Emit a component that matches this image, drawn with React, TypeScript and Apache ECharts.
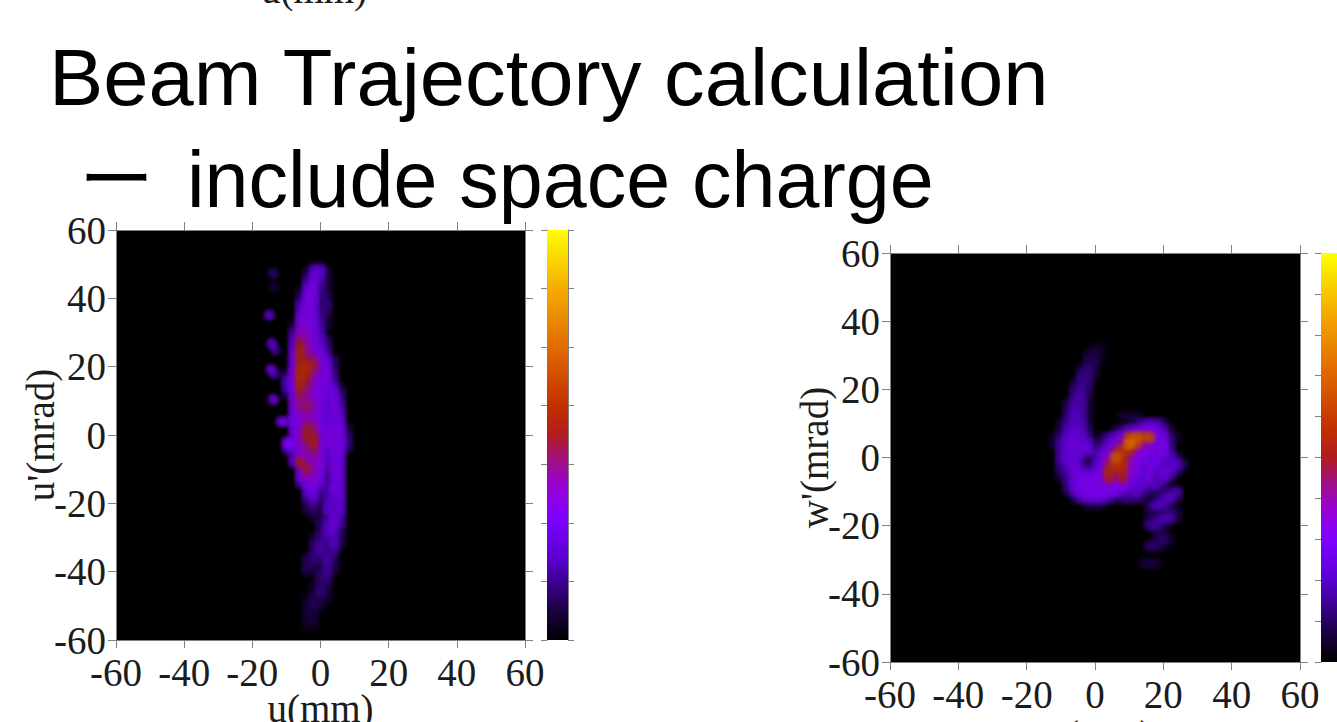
import React, { useEffect, useRef } from "react";
import * as echarts from "echarts";

const axisTicks = [-60, -40, -20, 0, 20, 40, 60];
const titleLine1 = "Beam Trajectory calculation";
const titleDash = "ー";
const titleLine2 = "include space charge";
const topClippedLabel = "u(mm)";
const leftXName = "u(mm)";
const leftYName = "u'(mrad)";
const rightXName = "w(mm)";
const rightYName = "w'(mrad)";
const leftBarMax = 7;
const rightBarMax = 10;

// colour scale: [fraction, colour]
const colorStops: [number, string][] = [
  [0, "#000000"], [0.07, "#1a0040"], [0.14, "#3c0090"], [0.2, "#5a00d0"], [0.3, "#8000ff"],
  [0.38, "#9a00d0"], [0.44, "#a01080"], [0.5, "#b01c20"], [0.57, "#c03000"], [0.7, "#e06400"],
  [0.85, "#f4a800"], [1, "#ffff00"],
];

// separate beads of the left phase-space plot: [u, u', level]
const leftBeads = [
  [-13.8, 47.3, 0.9], [-13.8, 43.4, 0.5], [-15, 35.1, 1.8], [-14.3, 26.8, 1.8], [-13.3, 24.9, 1.2],
  [-14.5, 19.2, 2.0], [-13.4, 17.8, 1.2], [-13.8, 10.4, 2.2], [-11.6, 3.9, 2.3], [-9, -3, 2.1],
];
// rows of the left plot: [u', first u, level at every 2 mm ...]
const leftRows = [
  [49, -2, 0.9, 1],
  [48, -4, 0.5, 1.6, 1.8, 0.6],
  [46, -4, 1.0, 2.1, 1.6, 0.5],
  [44, -4, 1.6, 2.2, 1.2, 0.6],
  [42, -6, 0.5, 2.1, 2.3, 1.1, 0.6],
  [40, -6, 0.9, 2.3, 2.2, 1.0, 0.8],
  [38, -6, 1.5, 2.4, 2.0, 1.0, 1],
  [36, -6, 2.0, 2.4, 2.1, 1.0, 0.8],
  [34, -6, 2.3, 2.4, 2.1, 1.2, 0.5],
  [32, -8, 0.6, 2.6, 2.5, 2.2, 1.3, 0.5],
  [30, -8, 1.2, 2.8, 2.6, 2.2, 1.5],
  [28, -8, 1.6, 3.3, 2.8, 2.3, 1.7, 0.8],
  [26, -8, 1.9, 3.8, 3, 2.4, 2.0, 1],
  [24, -8, 2.1, 4.1, 3.1, 2.5, 2.2, 1.2],
  [22, -8, 2.2, 3.9, 3.6, 3.4, 2.4, 1.9, 0.8],
  [20, -8, 2.3, 4.1, 4.2, 3.6, 2.4, 2.2, 0.8],
  [18, -10, 0.8, 2.4, 4.3, 4, 3, 2.5, 2.3, 1],
  [16, -10, 1.5, 2.4, 4.2, 3.6, 2.6, 2.4, 2.3, 1.2],
  [14, -10, 1.5, 2.3, 4, 3.3, 2.5, 2.3, 2.2, 1.8, 0.5],
  [12, -10, 0.8, 2.2, 3.5, 2.8, 2.5, 2.3, 2, 2.2, 1],
  [10, -8, 2.4, 3.2, 3.2, 2.7, 2.4, 2, 2.3, 1.2],
  [8, -8, 2.2, 3.1, 3.4, 2.8, 2.3, 1.8, 2.2, 1.5],
  [6, -8, 2.3, 2.6, 2.8, 2.5, 2.2, 1.9, 2.1, 1.8],
  [4, -10, 1.5, 2.2, 2.5, 3, 2.8, 2.2, 2, 2.2, 2.0],
  [2, -8, 2.2, 2.5, 3.7, 3.2, 2.3, 2.1, 2.3, 2.2, 0.6],
  [0, -8, 2.2, 2.6, 3.8, 3.6, 2.4, 2.2, 2.4, 2.2, 0.8],
  [-2, -10, 2.2, 2, 2.7, 3.4, 3.9, 2.5, 2.3, 2.4, 2.2, 1.1],
  [-4, -10, 1.5, 1.6, 2.5, 3, 3.5, 2.5, 1.8, 2.3, 2.1, 0.8],
  [-6, -8, 1.6, 2.8, 2.8, 2.9, 2.5, 1.6, 2.2, 2.1],
  [-8, -8, 1.8, 3.8, 3, 2.8, 2.5, 1.5, 2.2, 2.1],
  [-10, -6, 2.6, 3.6, 2.8, 2.4, 1.3, 2.4, 2.0],
  [-12, -6, 2.4, 2.9, 2.6, 2.3, 1, 2.2, 2.0],
  [-14, -6, 1.4, 2.4, 2.4, 2, 1.1, 2.1, 1.9],
  [-16, -4, 2.1, 2.2, 1.2, 1.4, 2.2, 2.0],
  [-18, -4, 1.4, 2.0, 0.9, 1.2, 1.9, 2.0],
  [-20, -4, 0.8, 1.3, 0.5, 1.6, 1.8, 1.8],
  [-22, -4, 0.6, 0.8, 0.5, 1.7, 1.8, 1.9],
  [-24, -2, 0.5, 0.6, 1.1, 1.9, 1.3],
  [-26, 0, 0.8, 1.5, 2.0, 1.3],
  [-28, 0, 0.8, 1.7, 1.8, 0.8],
  [-30, -2, 0.5, 1, 1.3, 1.6, 0.7],
  [-32, -2, 0.9, 1.3, 1.1, 1.6, 0.6],
  [-34, -2, 0.9, 1.3, 1, 1.2],
  [-36, -4, 0.7, 1, 1, 1.3, 0.8],
  [-38, -4, 0.8, 0.7, 0.6, 1.2, 0.7],
  [-40, -4, 0.6, 0.5, 0.8, 1.2, 0.5],
  [-42, 0, 0.9, 1.0],
  [-44, -2, 0.4, 0.9, 0.7],
  [-46, -2, 0.5, 1.0, 0.5],
  [-48, -4, 0.3, 0.7, 0.6, 0.4],
  [-50, -4, 0.5, 0.7, 0.5],
  [-52, -4, 0.5, 0.5],
  [-54, -4, 0.4, 0.5],
  [-56, -4, 0.3, 0.3],
];
// rows of the right plot: [w', first w, level at every 2 mm ...] (0 = empty cell)
const rightRows = [
  [32, 0, 0.4, 0.3],
  [30, -2, 0.5, 0.6, 0.3],
  [28, -2, 0.7, 0.7],
  [26, -4, 0.6, 0.9, 0.5],
  [24, -4, 1.0, 1.0, 0.4],
  [22, -6, 0.5, 1.1, 0.9],
  [20, -6, 0.9, 1.2, 0.8],
  [18, -6, 1.1, 1.3, 0.6],
  [16, -8, 0.6, 1.3, 1.3, 0.5],
  [14, -8, 0.8, 1.4, 1.3, 0.5],
  [12, -8, 1.0, 1.5, 1.3, 0.5, 0, 0, 0, 0, 0.4, 0.5, 0.5],
  [10, -10, 0.5, 1.2, 1.6, 1.4, 0.6, 0, 0, 0, 0, 0, 0.5, 0.8, 1.3, 1.7, 1.6, 0.8],
  [8, -10, 0.6, 1.5, 1.7, 1.5, 0.8, 0, 0, 0, 0.6, 1.2, 1.8, 2, 2.2, 2.2, 2, 1.5, 0.5],
  [6, -12, 0.4, 1, 1.7, 1.9, 1.8, 1.1, 0, 0.6, 1.2, 1.8, 2.4, 4.8, 5.2, 4.8, 4.9, 2.2, 2.2, 0.9, 0.4],
  [4, -12, 0.5, 1.3, 1.9, 1.9, 1.9, 1.8, 0.8, 0.9, 1.8, 2.4, 3.2, 5.6, 4.9, 3, 2.7, 2.2, 2.2, 1.1],
  [2, -10, 1.3, 1.8, 1.9, 2.0, 2.0, 1.0, 1.7, 2.2, 3.4, 4.6, 4.2, 2.8, 2.4, 2.3, 1.6, 2.3, 1.3],
  [0, -10, 1.4, 1.8, 1.9, 1.4, 0.3, 1.3, 2, 2.8, 5.2, 4.2, 3, 2.5, 2.3, 1.6, 2.2, 1.8, 1.5, 0.9],
  [-2, -10, 1.1, 1.7, 2.0, 1.2, 0.2, 1.4, 2.1, 3.4, 4.5, 4.3, 2.8, 2.4, 1.9, 2.2, 2.0, 1.3, 1.7, 1.6, 0.7],
  [-4, -10, 0.9, 1.3, 2.0, 1.9, 1.5, 1.9, 2.2, 4.2, 3.6, 4.0, 2.6, 2.3, 1.6, 2.1, 1.5, 2.0, 1.9, 1.0],
  [-6, -10, 0.5, 1.1, 2.0, 2.2, 2.1, 2.2, 2.4, 3.8, 2.8, 3.7, 2.5, 2, 1.7, 2.1, 1.1, 1.9, 1.0],
  [-8, -8, 1.1, 2, 2.2, 2.2, 2.2, 2.4, 2.5, 2.4, 2.4, 2.2, 1.6, 1.9, 1.3, 1.6, 0.9],
  [-10, -8, 0.7, 1.8, 2.2, 2.3, 2.3, 2.3, 2.3, 2.2, 1.9, 1.2, 1.7, 1.2, 0.9, 0.6, 0.8, 1.1, 1.4],
  [-12, -6, 0.7, 1.5, 1.9, 2, 1.9, 1.4, 0.8, 0.9, 1.1, 1.0, 0.7, 0, 0.8, 1.3, 1.6, 0.8],
  [-14, -2, 0.5, 0.6, 0.5, 0, 0, 0, 0, 0, 0, 0.8, 1.5, 1.4, 0.5],
  [-16, 16, 0.6, 0.5, 0.6, 1.0, 0.6],
  [-18, 16, 0.7, 1.0, 1.4, 1.3, 0.4],
  [-20, 16, 1.1, 1.2, 0.7],
  [-22, 18, 0.5, 0.4],
  [-24, 18, 0.6, 0.9, 0.5],
  [-26, 16, 0.9, 0.8, 0.4],
  [-31, 14, 0.4, 0.6, 0.4],
];

const COLOR_FULL_LEVEL = 7.6;

function hexToRgb(h: string) {
  return [1, 3, 5].map((i) => parseInt(h.slice(i, i + 2), 16));
}
function levelColor(level: number) {
  const t = Math.min(1, level / COLOR_FULL_LEVEL);
  for (let i = 1; i < colorStops.length; i++) {
    if (t <= colorStops[i][0]) {
      const [t0, c0] = colorStops[i - 1];
      const [t1, c1] = colorStops[i];
      const f = (t - t0) / (t1 - t0);
      const a = hexToRgb(c0);
      const b = hexToRgb(c1);
      return a.map((v, k) => Math.round(v + (b[k] - v) * f));
    }
  }
  return [255, 255, 0];
}
function cellsOf(rows: number[][], extra: number[][] = []) {
  const out: number[][] = [...extra];
  rows.forEach(([v, first, ...levels]) => {
    levels.forEach((l, i) => {
      if (l > 0) out.push([first + i * 2, v, l]);
    });
  });
  return out.sort((a, b) => a[2] - b[2]);
}
function blobData(cells: number[][]) {
  return cells.map(([u, v, l]) => {
    const [r, g, b] = levelColor(l);
    return {
      value: [u, v, l],
      itemStyle: {
        color: {
          type: "radial", x: 0.5, y: 0.5, r: 0.5,
          colorStops: [
            { offset: 0, color: `rgba(${r},${g},${b},1)` },
            { offset: 0.4, color: `rgba(${r},${g},${b},0.8)` },
            { offset: 1, color: `rgba(${r},${g},${b},0)` },
          ],
        },
      },
    };
  });
}

const SERIF = "'Liberation Serif', serif";
const AXIS_GRAY = "#808080";
const TEXT = "#1c1c1c";

function valueAxis(gridIndex: number, position: string, labelled: boolean, name?: string, gap?: number, rotate?: number) {
  const horizontal = position === "bottom" || position === "top";
  return {
    type: "value", gridIndex, position, min: axisTicks[0], max: axisTicks[axisTicks.length - 1], interval: 20,
    name: name ?? "", nameLocation: "middle", nameGap: gap ?? 0, nameRotate: rotate, nameMoveOverlap: false,
    nameTextStyle: { fontFamily: SERIF, fontSize: 39, color: TEXT, lineHeight: 39 },
    axisLine: { show: true, onZero: false, lineStyle: { color: AXIS_GRAY, width: 1 } },
    axisTick: { show: true, length: 8, lineStyle: { color: AXIS_GRAY, width: 1 } },
    axisLabel: {
      show: labelled, fontFamily: SERIF, fontSize: 39, color: TEXT,
      margin: horizontal ? 13 : 10, showMinLabel: true, showMaxLabel: true, hideOverlap: false,
    },
    splitLine: { show: false },
  };
}
function barAxis(gridIndex: number, position: string, max: number) {
  return {
    type: "value", gridIndex, position, min: 0, max, interval: 1,
    axisLine: { show: true, onZero: false, lineStyle: { color: AXIS_GRAY, width: 1 } },
    axisTick: { show: true, length: 6, lineStyle: { color: AXIS_GRAY, width: 1 } },
    axisLabel: { show: false },
    splitLine: { show: false },
  };
}

export default function App() {
  const ref = useRef<HTMLDivElement>(null);
  useEffect(() => {
    document.body.style.margin = "0";
    const chart = echarts.init(ref.current!, null, { renderer: "svg" });
    const gradient = {
      type: "linear", x: 0, y: 1, x2: 0, y2: 0,
      colorStops: colorStops.map(([offset, color]) => ({ offset, color })),
    };
    const titleFont = "'Liberation Sans', sans-serif";
    const blobSeries = (idx: number, cells: number[][], size: number) => ({
      type: "scatter", xAxisIndex: idx, yAxisIndex: idx, symbol: "circle", symbolSize: size,
      clip: true, silent: true, data: blobData(cells),
    });
    const gridBase = { outerBoundsMode: "none", containLabel: false, borderWidth: 0 };
    chart.setOption({
      animation: false,
      backgroundColor: "#ffffff",
      tooltip: { show: false },
      grid: [
        { ...gridBase, left: 116, top: 230, width: 409, height: 410, show: true, backgroundColor: "#000000" },
        { ...gridBase, left: 890, top: 253, width: 410, height: 409, show: true, backgroundColor: "#000000" },
        { ...gridBase, left: 547, top: 230, width: 21, height: 410 },
        { ...gridBase, left: 1321, top: 253, width: 24, height: 409 },
      ],
      xAxis: [
        valueAxis(0, "bottom", true, leftXName, 49),
        valueAxis(1, "bottom", true, rightXName, 53),
        { type: "category", gridIndex: 2, data: ["scale"], show: false },
        { type: "category", gridIndex: 3, data: ["scale"], show: false },
        valueAxis(0, "top", false),
        valueAxis(1, "top", false),
      ],
      yAxis: [
        valueAxis(0, "left", true, leftYName, 56, 90),
        valueAxis(1, "left", true, rightYName, 56, 90),
        barAxis(2, "left", leftBarMax),
        barAxis(3, "left", rightBarMax),
        valueAxis(0, "right", false),
        valueAxis(1, "right", false),
        barAxis(2, "right", leftBarMax),
        barAxis(3, "right", rightBarMax),
      ],
      series: [
        blobSeries(0, cellsOf(leftRows, leftBeads), 16),
        blobSeries(1, cellsOf(rightRows), 17),
        {
          type: "bar", xAxisIndex: 2, yAxisIndex: 2, barWidth: "100%", silent: true,
          data: [leftBarMax], itemStyle: { color: gradient },
        },
        {
          type: "bar", xAxisIndex: 3, yAxisIndex: 3, barWidth: "100%", silent: true,
          data: [rightBarMax], itemStyle: { color: gradient },
        },
      ],
      graphic: [
        { type: "text", x: 314, y: 9, style: { text: topClippedLabel, font: `39px ${SERIF}`, fill: TEXT, textAlign: "center", textVerticalAlign: "bottom" } },
        { type: "text", x: 49, y: 117, scaleX: 1.03, style: { text: titleLine1, font: `79px ${titleFont}`, fill: "#000", textVerticalAlign: "bottom" } },
        { type: "text", x: 79, y: 211, style: { text: titleDash, font: `75px 'Noto Sans CJK JP', sans-serif`, fill: "#000", textVerticalAlign: "bottom" } },
        { type: "text", x: 187, y: 219, style: { text: titleLine2, font: `79px ${titleFont}`, fill: "#000", textVerticalAlign: "bottom" } },
      ],
    });
    return () => chart.dispose();
  }, []);
  return <div ref={ref} style={{ width: 1337, height: 722 }} />;
}
